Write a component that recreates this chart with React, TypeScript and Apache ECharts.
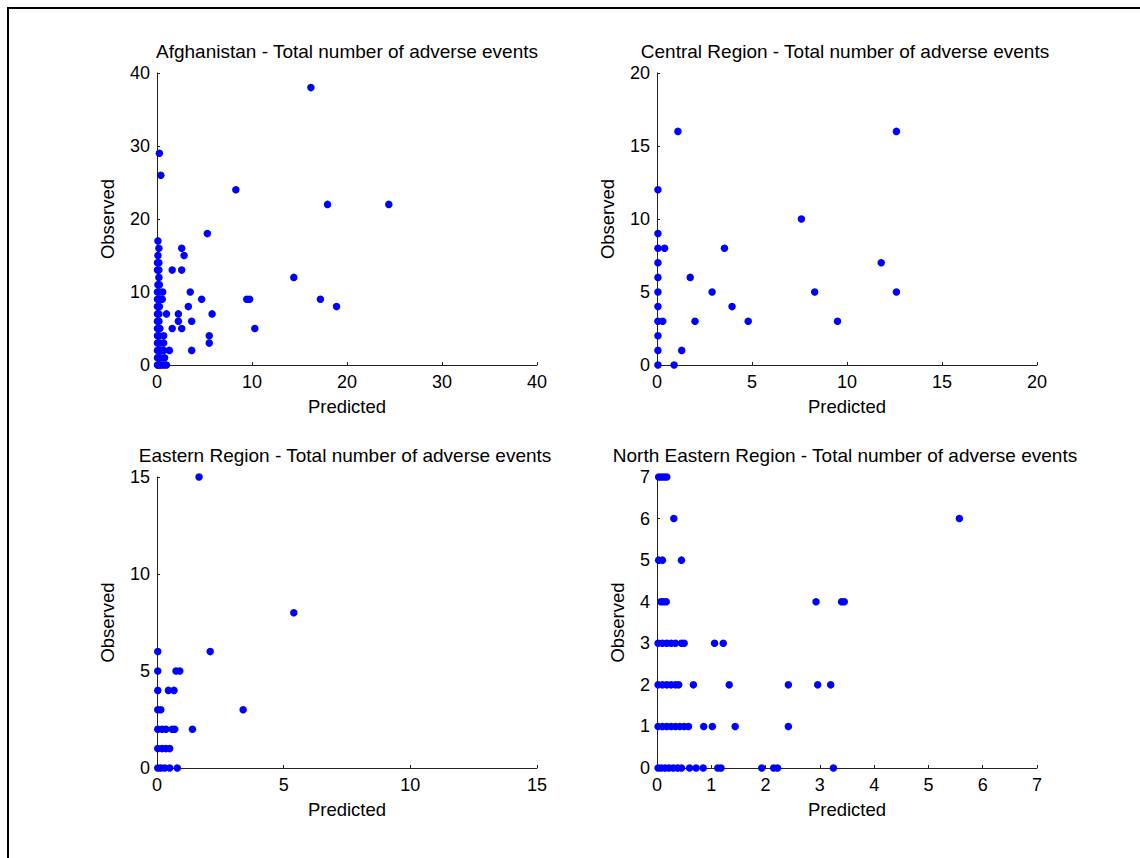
import React, { useEffect, useRef } from "react";
import * as echarts from "echarts";

const titles = [
  "Afghanistan - Total number of adverse events",
  "Central Region - Total number of adverse events",
  "Eastern Region - Total number of adverse events",
  "North Eastern Region - Total number of adverse events",
];

const axisMax = [40, 20, 15, 7];
const axisStep = [10, 5, 5, 1];

const afghanistan: number[][] = [
  [0.05, 0], [0.15, 0], [0.3, 0], [0.5, 0], [0.75, 0], [1.0, 0],
  [0.05, 1], [0.2, 1], [0.4, 1], [0.8, 1],
  [0.05, 2], [0.2, 2], [0.45, 2], [0.7, 2], [1.3, 2], [3.65, 2],
  [0.05, 3], [0.3, 3], [0.7, 3], [5.5, 3],
  [0.05, 4], [0.2, 4], [0.7, 4], [5.5, 4],
  [0.05, 5], [0.3, 5], [1.6, 5], [2.6, 5], [10.3, 5],
  [0.05, 6], [0.2, 6], [2.25, 6], [3.65, 6],
  [0.05, 7], [0.2, 7], [1.0, 7], [2.25, 7], [5.8, 7],
  [0.05, 8], [0.25, 8], [3.3, 8], [18.9, 8],
  [0.05, 9], [0.25, 9], [0.55, 9], [4.7, 9], [9.45, 9], [9.75, 9], [17.2, 9],
  [0.05, 10], [0.25, 10], [0.6, 10], [3.5, 10],
  [0.1, 11], [0.25, 11],
  [0.2, 12], [14.4, 12],
  [0.05, 13], [0.2, 13], [1.6, 13], [2.6, 13],
  [0.05, 14], [0.2, 14],
  [0.1, 15], [2.85, 15],
  [0.2, 16], [2.6, 16],
  [0.1, 17],
  [5.3, 18],
  [17.95, 22], [24.4, 22],
  [8.3, 24],
  [0.4, 26],
  [0.25, 29],
  [16.2, 38],
];

const central: number[][] = [
  [0.05, 0], [0.9, 0], [0.05, 1], [1.3, 1], [0.05, 2],
  [0.05, 3], [0.3, 3], [2.0, 3], [4.8, 3], [9.5, 3],
  [0.05, 4], [3.95, 4], [0.05, 5], [2.9, 5], [8.3, 5], [12.6, 5],
  [0.05, 6], [1.75, 6], [0.05, 7], [11.8, 7],
  [0.05, 8], [0.4, 8], [3.55, 8], [0.05, 9], [7.6, 10],
  [0.05, 12], [1.1, 16], [12.6, 16],
];

const eastern: number[][] = [
  [0.03, 0], [0.15, 0], [0.3, 0], [0.5, 0], [0.8, 0],
  [0.03, 1], [0.2, 1], [0.35, 1], [0.5, 1],
  [0.03, 2], [0.2, 2], [0.35, 2], [0.6, 2], [0.7, 2], [1.4, 2],
  [0.03, 3], [0.15, 3], [3.4, 3],
  [0.03, 4], [0.45, 4], [0.67, 4],
  [0.03, 5], [0.75, 5], [0.9, 5],
  [0.03, 6], [2.1, 6],
  [5.4, 8],
  [1.66, 15],
];

const northEastern: number[][] = [
  [0.02, 0], [0.08, 0], [0.15, 0], [0.22, 0], [0.3, 0], [0.38, 0], [0.45, 0],
  [0.6, 0], [0.72, 0], [0.85, 0], [1.12, 0], [1.18, 0], [1.93, 0], [2.15, 0], [2.22, 0], [3.25, 0],
  [0.02, 1], [0.1, 1], [0.18, 1], [0.26, 1], [0.34, 1], [0.42, 1], [0.5, 1], [0.58, 1],
  [0.86, 1], [1.02, 1], [1.44, 1], [2.42, 1],
  [0.02, 2], [0.1, 2], [0.18, 2], [0.26, 2], [0.34, 2], [0.4, 2],
  [0.67, 2], [1.33, 2], [2.42, 2], [2.96, 2], [3.2, 2],
  [0.02, 3], [0.1, 3], [0.18, 3], [0.26, 3], [0.34, 3], [0.45, 3], [0.5, 3], [1.06, 3], [1.22, 3],
  [0.07, 4], [0.12, 4], [0.17, 4], [2.93, 4], [3.4, 4], [3.45, 4],
  [0.03, 5], [0.1, 5], [0.45, 5],
  [0.31, 6],
  [0.03, 7], [0.08, 7], [0.13, 7], [0.18, 7],
  [5.57, 6],
];

const panelData = [afghanistan, central, eastern, northEastern];

const FONT = "'Liberation Sans', Arial, sans-serif";

export default function App() {
  const ref = useRef<HTMLDivElement>(null);
  useEffect(() => {
    if (!ref.current) return;
    const chart = echarts.init(ref.current, undefined, { renderer: "svg" });
    const grids = [
      { left: 157, top: 73, width: 380, height: 292 },
      { left: 657, top: 73, width: 380, height: 292 },
      { left: 157, top: 477, width: 380, height: 291 },
      { left: 657, top: 477, width: 380, height: 291 },
    ];
    const titleX = [347, 845, 345, 845];
    const yNameGap = [40, 40, 40, 30];
    const axisCommon = {
      axisLine: { show: true, onZero: false, lineStyle: { color: "#222", width: 1 } },
      axisTick: { show: true, inside: true, length: 3, lineStyle: { color: "#222" } },
      splitLine: { show: false },
      axisLabel: { color: "#000", fontSize: 18, fontFamily: FONT },
      nameTextStyle: { color: "#000", fontSize: 18.5, fontFamily: FONT },
    };
    const option: any = {
      animation: false,
      backgroundColor: "#fff",
      grid: grids.map((g) => ({ ...g, containLabel: false })),
      xAxis: grids.map((_, i) => ({
        ...axisCommon,
        type: "value",
        gridIndex: i,
        min: 0,
        max: axisMax[i],
        interval: axisStep[i],
        name: "Predicted",
        nameLocation: "middle",
        nameGap: 32,
        axisLabel: { ...axisCommon.axisLabel, margin: 8 },
      })),
      yAxis: grids.map((_, i) => ({
        ...axisCommon,
        type: "value",
        gridIndex: i,
        min: 0,
        max: axisMax[i],
        interval: axisStep[i],
        name: "Observed",
        nameLocation: "middle",
        nameGap: yNameGap[i],
        axisLabel: { ...axisCommon.axisLabel, margin: 7 },
      })),
      series: panelData.map((d, i) => ({
        type: "scatter",
        xAxisIndex: i,
        yAxisIndex: i,
        data: d,
        symbol: "circle",
        symbolSize: 7.5,
        itemStyle: { color: "#0000ff", opacity: 1 },
        clip: false,
        z: 5,
      })),
      graphic: [
        {
          type: "rect",
          shape: { x: 8, y: 8, width: 1300, height: 1000 },
          style: { fill: "none", stroke: "#000", lineWidth: 2 },
          silent: true,
        },
        ...grids.map((g, i) => ({
          type: "text",
          x: titleX[i],
          y: g.top - 22,
          style: {
            text: titles[i],
            fill: "#000",
            font: `19px ${FONT}`,
            textAlign: "center",
            textVerticalAlign: "middle",
          },
        })),
      ],
    };
    chart.setOption(option);
    return () => chart.dispose();
  }, []);
  return (
    <div
      ref={ref}
      style={{ position: "absolute", left: 0, top: 0, width: 1140, height: 858 }}
    />
  );
}
